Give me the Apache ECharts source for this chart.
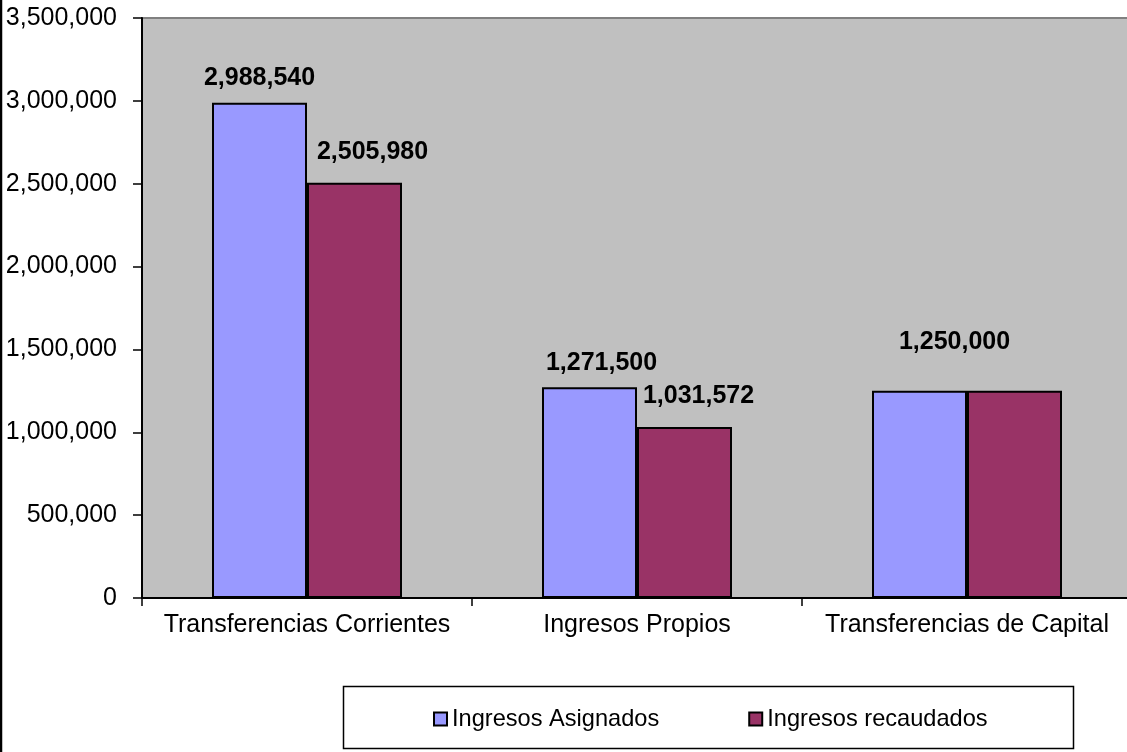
<!DOCTYPE html>
<html>
<head>
<meta charset="utf-8">
<script src="https://cdn.jsdelivr.net/npm/echarts@6/dist/echarts.min.js"></script>
<style>html,body{margin:0;padding:0;background:#fff;overflow:hidden;width:1127px;height:752px;}#c{width:1132px;height:752px;}</style>
</head>
<body>
<div id="c"></div>
<script>
const categories = ['Transferencias Corrientes', 'Ingresos Propios', 'Transferencias de Capital'];
const seriesNames = ['Ingresos Asignados', 'Ingresos recaudados'];
const asignados = [2988540, 1271500, 1250000];
const recaudados = [2505980, 1031572, 1250000];
const yTicks = [0, 3500000, 500000];

const font = "'Liberation Sans', Arial, sans-serif";
const fmt = v => Number(v).toLocaleString('en-US');

const chart = echarts.init(document.getElementById('c'));
const labelBase = {
  show: true, position: 'top', fontFamily: font, fontSize: 25, fontWeight: 'bold',
  color: '#000', formatter: p => fmt(p.value)
};
const asgOffsets = [[0, 0], [12, 0], [35, -24]];
const recOffsets = [[18, 0], [14, 0], null];

chart.setOption({
  animation: false,
  backgroundColor: '#fff',
  grid: {
    left: 142, top: 18, right: 0, bottom: 154,
    show: true, backgroundColor: '#c0c0c0', borderColor: '#808080', borderWidth: 2
  },
  xAxis: {
    type: 'category', data: categories,
    axisLine: { lineStyle: { color: '#000', width: 2 } },
    axisTick: { show: true, length: 8, lineStyle: { color: '#000', width: 1.5 } },
    axisLabel: { fontFamily: font, fontSize: 25, color: '#000', margin: 15, interval: 0 }
  },
  yAxis: {
    type: 'value', min: yTicks[0], max: yTicks[1], interval: yTicks[2],
    axisLine: { show: true, lineStyle: { color: '#000', width: 2 } },
    axisTick: { show: true, length: 9, lineStyle: { color: '#000', width: 1.5 } },
    splitLine: { show: false },
    axisLabel: { fontFamily: font, fontSize: 25, color: '#000', margin: 25, formatter: fmt }
  },
  legend: {
    left: 433, top: 707, padding: 0, itemGap: 89, itemWidth: 13, itemHeight: 13,
    icon: 'rect',
    textStyle: { fontFamily: font, fontSize: 23.6, color: '#000' },
    data: seriesNames
  },
  graphic: [
    { type: 'rect', z: 100, silent: true, shape: { x: 1, y: -10, width: 1300, height: 900 },
      style: { fill: 'none', stroke: '#000', lineWidth: 2.5 } },
    { type: 'rect', z: -1, silent: true, shape: { x: 343.5, y: 686.5, width: 730, height: 62 },
      style: { fill: '#fff', stroke: '#000', lineWidth: 1.5 } }
  ],
  series: [
    {
      name: seriesNames[0], type: 'bar', barWidth: 95, barGap: '0%',
      itemStyle: { color: '#9999ff', borderColor: '#000', borderWidth: 2 },
      label: Object.assign({}, labelBase, { distance: 12 }),
      data: asignados.map((v, i) => ({ value: v, label: { offset: asgOffsets[i] } }))
    },
    {
      name: seriesNames[1], type: 'bar', barWidth: 95, barGap: '0%',
      itemStyle: { color: '#993366', borderColor: '#000', borderWidth: 2 },
      label: Object.assign({}, labelBase, { distance: 18 }),
      data: recaudados.map((v, i) => recOffsets[i]
        ? ({ value: v, label: { offset: recOffsets[i] } })
        : ({ value: v, label: { show: false } }))
    }
  ]
});
</script>
</body>
</html>
